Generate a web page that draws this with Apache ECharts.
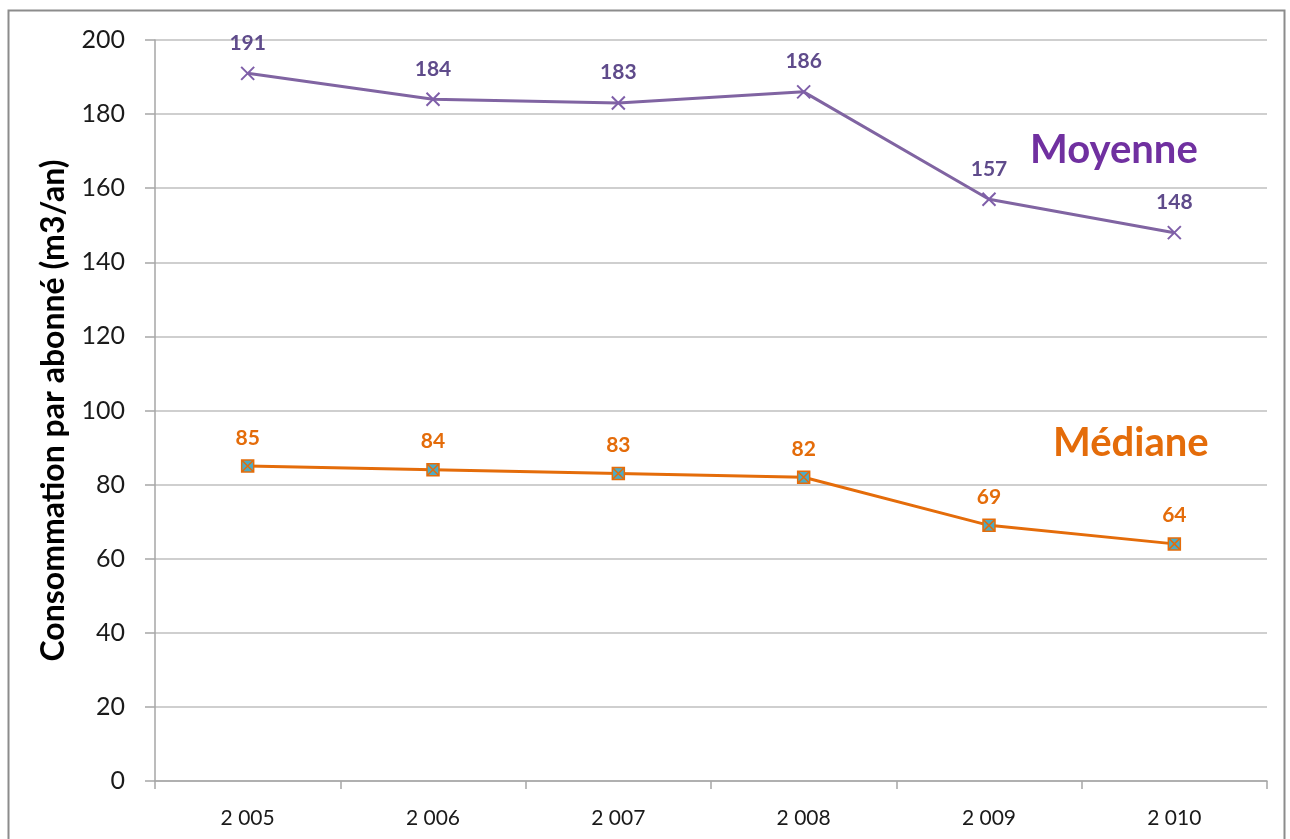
<!DOCTYPE html>
<html>
<head>
<meta charset="utf-8">
<script src="https://cdn.jsdelivr.net/npm/echarts@6/dist/echarts.min.js"></script>
<style>
  html, body { margin: 0; padding: 0; background: #fff; }
  #chart { width: 1290px; height: 839px; }
</style>
</head>
<body>
<div id="chart"></div>
<script>
// Consommation moyenne et médiane par abonné, 2005-2010
const years = ['2 005', '2 006', '2 007', '2 008', '2 009', '2 010'];
const moyenne = [191, 184, 183, 186, 157, 148];
const mediane = [85, 84, 83, 82, 69, 64];
const yTicks = { min: 0, max: 200, interval: 20 };

const FONT = 'Lato, "Open Sans", sans-serif';

const chart = echarts.init(document.getElementById('chart'), null, { renderer: 'canvas' });

chart.setOption({
  backgroundColor: '#ffffff',
  animation: false,
  grid: { left: 155, right: 23, top: 40, bottom: 58, containLabel: false },
  graphic: [
    {
      type: 'rect',
      shape: { x: 8.5, y: 10.5, width: 1276, height: 900 },
      style: { fill: 'none', stroke: '#8c8c8c', lineWidth: 2 },
      silent: true
    },
    {
      type: 'text',
      left: 1030, top: 130,
      style: { text: 'Moyenne', fill: '#7030a0', font: 'bold 40px ' + FONT }
    },
    {
      type: 'text',
      left: 1053, top: 423,
      style: { text: 'Médiane', fill: '#e46c0a', font: 'bold 40px ' + FONT }
    }
  ],
  xAxis: {
    type: 'category',
    data: years,
    boundaryGap: true,
    axisLine: { show: true, lineStyle: { color: '#a6a6a6', width: 1.5 } },
    axisTick: { show: true, length: 8, lineStyle: { color: '#a6a6a6', width: 1.5 } },
    axisLabel: { color: '#1a1a1a', fontSize: 21, fontFamily: FONT, margin: 27 },
    splitLine: { show: false }
  },
  yAxis: {
    type: 'value',
    min: yTicks.min, max: yTicks.max, interval: yTicks.interval,
    name: 'Consommation par abonné (m3/an)',
    nameLocation: 'middle',
    nameGap: 85,
    nameRotate: 90,
    nameTextStyle: { color: '#000', fontSize: 32, fontWeight: 'bold', fontFamily: FONT },
    axisLine: { show: true, lineStyle: { color: '#a6a6a6', width: 1.5 } },
    axisTick: { show: true, length: 10, lineStyle: { color: '#a6a6a6', width: 1.5 } },
    axisLabel: { color: '#1a1a1a', fontSize: 25, fontFamily: FONT, margin: 30 },
    splitLine: { show: true, lineStyle: { color: '#bfbfbf', width: 1.5 } }
  },
  series: [
    {
      name: 'Moyenne',
      type: 'line',
      data: moyenne,
      lineStyle: { color: '#8064a2', width: 3 },
      symbol: 'path://M0,0L10,10M10,0L0,10',
      symbolSize: 13,
      itemStyle: { color: 'none', borderColor: '#7f5fa9', borderWidth: 2 },
      label: {
        show: true, position: 'top', distance: 11,
        color: '#5f4b8b', fontSize: 21, fontWeight: 'bold', fontFamily: FONT
      },
      z: 3
    },
    {
      name: 'Médiane',
      type: 'line',
      data: mediane,
      lineStyle: { color: '#e46c0a', width: 3 },
      symbol: 'path://M0,0H10V10H0ZM0,0L10,10M10,0L0,10',
      symbolSize: 12,
      itemStyle: { color: '#4bacc6', borderColor: '#e46c0a', borderWidth: 1.5 },
      label: {
        show: true, position: 'top', distance: 11,
        color: '#e46c0a', fontSize: 21, fontWeight: 'bold', fontFamily: FONT
      },
      z: 3
    }
  ]
});
</script>
</body>
</html>
